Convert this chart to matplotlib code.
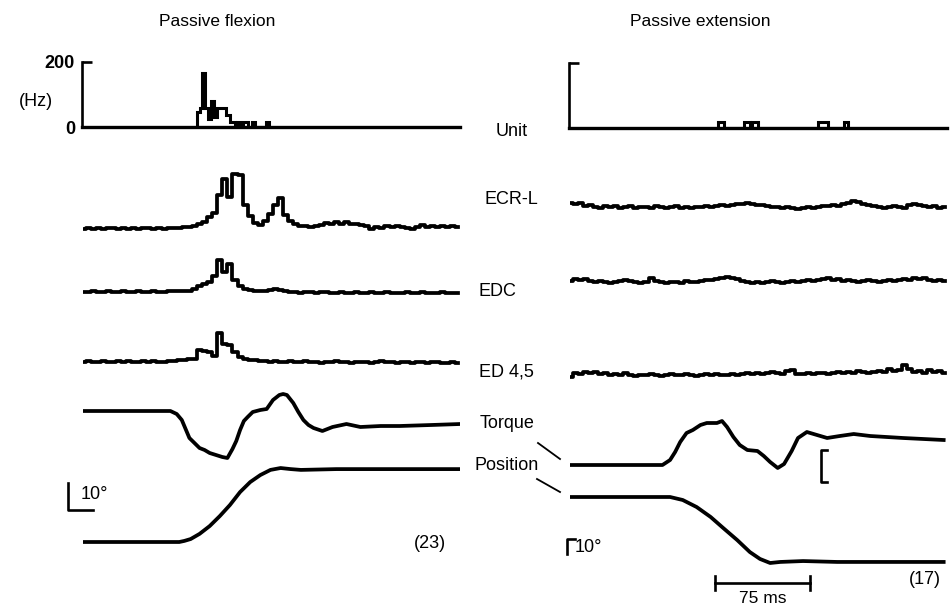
import numpy as np
import matplotlib.pyplot as plt

plt.rcParams['font.family'] = ['Liberation Sans', 'DejaVu Sans']

# ---- data (time in ms, EMG/torque in arbitrary units, position in degrees) ----
# unit firing rate histograms (Hz)
unit_flex_edges = [90.0, 92.4, 93.9, 96.3, 98.7, 101.1, 103.4, 105.8, 112.9, 116.1,
                   120.0, 121.6, 124.0, 126.3, 130.3, 133.4, 135.8, 144.5, 146.8]
unit_flex_rate = [45, 58, 166, 58, 25, 80, 30, 60, 38, 15, 10, 15, 0, 15, 0, 15, 0, 15]
unit_ext_edges = [116.8, 121.6, 137.4, 142.1, 143.7, 148.4, 195.8, 203.7, 216.3, 219.5]
unit_ext_rate = [18, 0, 18, 0, 18, 0, 18, 0, 18]

# rectified EMG, one sample every 4 ms
emg_dt = 4.0
ecrl_flex = [0, 1, 0, 1, 0, 1, 1, 0, 1, 0, 1, 0, 1, 1, 0, 1, 0, 1, 1, 1, 2, 2, 3, 5, 7, 12, 16,
             34, 50, 32, 55, 54, 24, 13, 6, 4, 8, 15, 24, 31, 14, 8, 5, 3, 3, 2, 3, 4, 6, 5, 7,
             5, 7, 5, 5, 4, 3, 0, 2, 1, 3, 2, 3, 2, 1, 0, 2, 4, 2, 3, 2, 3, 2, 3, 2]
edc_flex = [0, 0, 1, 0, 0, 1, 0, 0, 1, 0, 0, 1, 0, 0, 1, 0, 0, 1, 1, 1, 1,
            1, 3, 6, 8, 10, 16, 32, 20, 28, 12, 6, 3, 2, 1, 1, 1, 2, 3, 2, 1,
            0, 0, -1, 0, 0, -1, 0, 0, -1, -1, 0, -1, -1, 0, -1, -1, 0, -1, -1, 0, -1, -1, -1,
            0, -1, -1, 0, -1, -1, -1, 0, -1, -1, -1]
ed45_flex = [0, 1, 0, 0, 1, 0, 0, 1, 0, 1, 0, 0, 1, 0, 1, 0, 0, 1, 1, 2, 2, 3, 3,
             12, 11, 10, 6, 29, 18, 17, 10, 5, 3, 2, 2,
             1, 1, 0, 1, 0, 0, 1, 0, 0, 1, 0, 0, -1, 0, 0, 1, 0, 0, -1, 0, 0, 0, -1, 0, 1,
             0, 0, -1, 0, 0, -1, 0, 0, -1, 0, 0, -1, -1, 0, -1]
ecrl_ext = [4, 3, 4, 1, 2, 0, -1, 1, 0, 1, -1, 0, 1, -1, 0, 0, -1, 1, 0, -1,
            0, 1, -1, 0, -1, 0, 0, 1, 0, 1, 2, 1, 2, 3, 3, 4, 3, 2, 2, 1,
            0, 0, -1, 0, -1, -2, -1, 0, -1, 0, 1, 1, 2, 1, 3, 4, 6, 5, 3, 2,
            1, 0, -1, 0, 1, 0, -1, 2, 3, 2, 1, 0, 1, -1, 0]
edc_ext = [1, 3, 2, 3, 1, 0, 1, 0, -1, 0, 1, 2, 1, 0, -1, 0, 4, 1, 0, -1,
           0, 0, -1, 1, 0, 0, 1, 2, 2, 3, 4, 5, 4, 3, 1, 0, -1, 0, -1, 0,
           1, 0, -1, 0, 1, 0, 1, 2, 1, 2, 3, 4, 2, 3, 1, 2, 1, 0, 1, 2,
           1, 0, 1, 2, 1, 2, 3, 2, 4, 3, 4, 2, 1, 2, 1]
ed45_ext = [-2, 2, 1, 3, 2, 3, 1, 2, 0, 1, 0, 2, 0, -1, 0, 0, 1, 0, -1, 0,
            1, 0, 0, 1, 0, -1, 0, 1, 0, 1, 0, 0, 1, 0, 1, 2, 1, 2, 1, 2,
            3, 2, 1, 4, 5, 1, 1, 2, 1, 2, 2, 1, 2, 3, 2, 3, 2, 4, 3, 2,
            3, 4, 3, 6, 4, 5, 10, 6, 3, 4, 2, 5, 3, 4, 2]

# torque (a.u.)
torque_flex_t = [0, 20, 40, 60, 69, 74, 78, 84, 88, 92, 96, 100, 105, 110, 114, 118, 121, 124,
                 127, 130, 134, 140, 145, 150, 155, 158, 161, 166, 170, 174, 178, 182, 189, 197,
                 208, 219, 235, 250, 275, 298]
torque_flex = [0, 0, 0, 0, 0, -3, -9, -27, -32, -37, -39, -42, -44, -46, -47, -38, -30, -19,
               -10, -6, -1, 1, 2, 11, 16, 17, 16, 8, -1, -9, -14, -17, -20, -16,
               -13, -16, -15, -15, -14, -13]
torque_ext_t = [0, 40, 73, 79, 83, 87, 92, 97, 103, 108, 116, 120, 124, 129, 134, 140, 148, 153,
                158, 164, 169, 175, 180, 187, 195, 203, 213, 224, 237, 263, 295]
torque_ext = [0, 0, 0, 5, 13, 23, 32, 35, 40, 42, 42, 44, 38, 28, 20, 15, 14, 9,
              3, -3, 1, 14, 27, 33, 30, 27, 29, 31, 29, 27, 25]

# wrist position (deg)
pos_flex_t = [0, 40, 76, 80, 85, 92, 100, 108, 116, 124, 132, 140, 148, 156, 164, 172, 200, 250, 298]
pos_flex = [0, 0, 0, 0.4, 1.1, 3.0, 5.9, 9.6, 13.7, 18.5, 22.2, 24.8, 26.7, 27.4, 27.0, 26.7, 27.0, 27.0, 27.0]
pos_ext_t = [0, 40, 79, 89, 100, 111, 121, 132, 142, 150, 158, 166, 184, 211, 295]
pos_ext = [0, 0, 0, -2.0, -6.7, -13.3, -20.7, -28.7, -36.7, -41.3, -44.0, -43.3, -42.7, -43.3, -43.3]

row_labels = ['Unit', 'ECR-L', 'EDC', 'ED 4,5', 'Torque', 'Position']

# ---- layout (pixels) ----
W, H = 953, 607
PX_MS = 95 / 75.0
T_END = 298
fig = plt.figure(figsize=(W / 100, H / 100), dpi=100)


def trace_ax(x0, ybase, upp, half=120):
    ax = fig.add_axes([x0 / W, 1 - (ybase + half) / H, T_END * PX_MS / W, 2 * half / H])
    ax.set_xlim(0, T_END)
    ax.set_ylim(-half * upp, half * upp)
    ax.axis('off')
    ax.patch.set_alpha(0)
    return ax


def hist_ax(x0, ytop, ybot, labels):
    ax = fig.add_axes([(x0 - 1) / W, 1 - ybot / H, (T_END * PX_MS + 1) / W, (ybot - ytop) / H])
    ax.set_xlim(-1 / PX_MS, T_END)
    ax.set_ylim(0, 200)
    for s in ['top', 'right']:
        ax.spines[s].set_visible(False)
    ax.spines['left'].set_linewidth(1.9)
    ax.spines['bottom'].set_linewidth(2.4)
    ax.set_xticks([])
    ax.set_yticks([0, 200])
    ax.set_yticklabels(['0', '200'] if labels else ['', ''], fontsize=13, fontweight='bold')
    ax.tick_params(axis='y', direction='in', length=7, width=1.9, pad=5)
    ax.patch.set_alpha(0)
    return ax


lw = 2.7
emg_t = np.arange(75) * emg_dt

# unit histograms
ax = hist_ax(83, 62, 127, True)
ax.stairs(unit_flex_rate, unit_flex_edges, baseline=0, color='k', lw=2.2)
ax = hist_ax(570, 63, 128, False)
ax.stairs(unit_ext_rate, unit_ext_edges, baseline=0, color='k', lw=2.2)

# EMG traces
for x0, ybase, vals in [(83, 229, ecrl_flex), (83, 292, edc_flex), (83, 362, ed45_flex),
                        (570, 207, ecrl_ext), (570, 282, edc_ext), (570, 375, ed45_ext)]:
    ax = trace_ax(x0, ybase, 1.0, half=70)
    ax.plot(emg_t, vals, color='k', lw=lw, drawstyle='steps-mid', solid_joinstyle='round')

# torque
ax = trace_ax(83, 411, 1.0)
ax.plot(torque_flex_t, torque_flex, color='k', lw=lw, solid_joinstyle='round')
ax = trace_ax(570, 465, 1.0)
ax.plot(torque_ext_t, torque_ext, color='k', lw=lw, solid_joinstyle='round')
# torque calibration bracket
bx = (821 - 570) / PX_MS
ax.plot([bx + 5, bx, bx, bx + 5], [15, 15, -17, -17], color='k', lw=1.9, clip_on=False)

# position
ax = trace_ax(83, 542, 1 / 2.7)
ax.plot(pos_flex_t, pos_flex, color='k', lw=lw, solid_joinstyle='round')
ax.plot([-11.8, -11.8, 7.9], [21.9, 11.9, 11.9], color='k', lw=1.9, clip_on=False)
ax.text(-2, 17.5, '10°', fontsize=13, va='center', ha='left')

ax = trace_ax(570, 497, 1 / 1.5, half=150)
ax.plot(pos_ext_t, pos_ext, color='k', lw=lw, solid_joinstyle='round')
ax.plot([-2.4, -2.4, 3.9], [-38, -28, -28], color='k', lw=1.9, clip_on=False)
ax.text(3.5, -33.5, '10°', fontsize=13, va='center', ha='left')
# 75 ms time bar
ax.plot([114.5, 189.5], [-57.3, -57.3], color='k', lw=1.9)
for tb in [114.5, 189.5]:
    ax.plot([tb, tb], [-52.7, -62.0], color='k', lw=1.9)
ax.text(152, -67.5, '75 ms', fontsize=12.5, ha='center', va='center')

# overlay for labels (pixel coordinates)
ov = fig.add_axes([0, 0, 1, 1])
ov.set_xlim(0, W)
ov.set_ylim(H, 0)
ov.axis('off')
ov.patch.set_alpha(0)
ov.text(217, 22, 'Passive flexion', fontsize=12.5, ha='center', va='center')
ov.text(700, 22, 'Passive extension', fontsize=12.5, ha='center', va='center')
ov.text(36, 102, '(Hz)', fontsize=13, ha='center', va='center')
for lab, xc, yc in zip(row_labels, [512, 511, 497, 506, 507, 507], [131, 200, 292, 372, 424, 466]):
    ov.text(xc, yc, lab, fontsize=13, ha='center', va='center')
ov.plot([538, 560], [443, 459], color='k', lw=1.3)
ov.plot([537, 560], [479, 492], color='k', lw=1.3)
ov.text(430, 543, '(23)', fontsize=13, ha='center', va='center')
ov.text(925, 580, '(17)', fontsize=13, ha='center', va='center')

fig.savefig('out.png', dpi=100)
